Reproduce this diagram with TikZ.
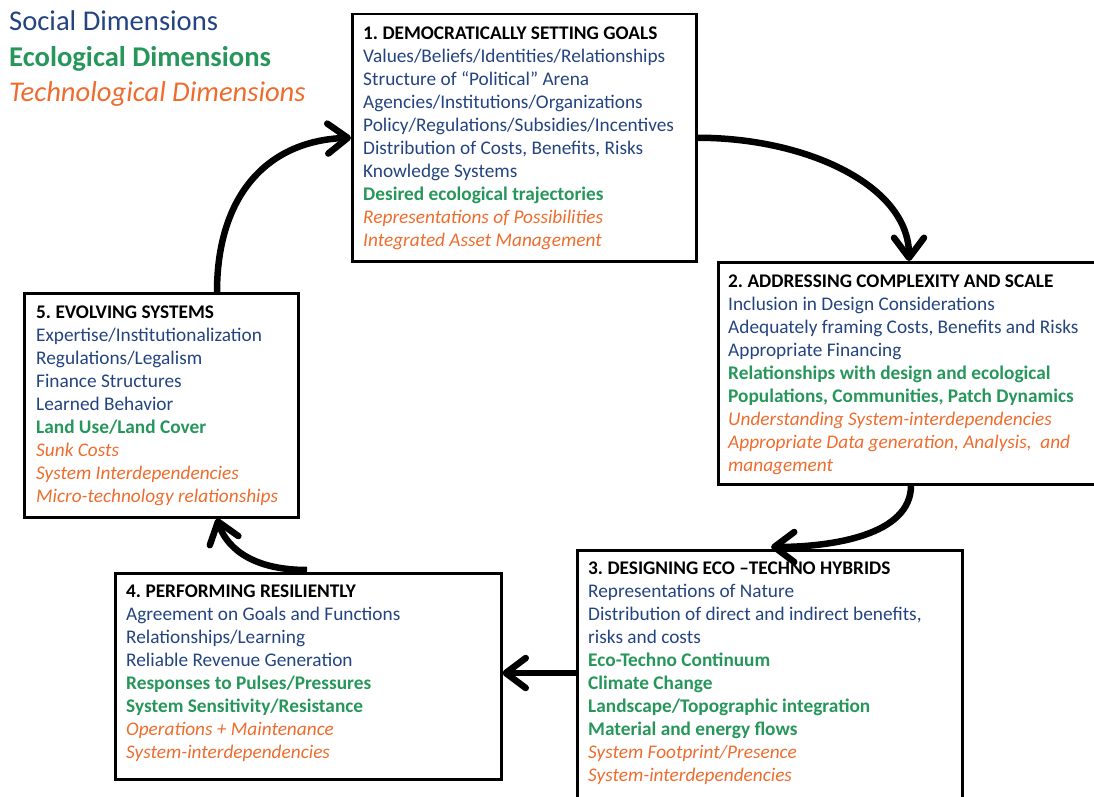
\documentclass[tikz,border=0pt]{standalone}
\usepackage{fontspec}
\setmainfont{Carlito}
\usetikzlibrary{arrows.meta,calc}
\frenchspacing
\definecolor{soc}{RGB}{35,68,128}
\definecolor{eco}{RGB}{38,150,90}
\definecolor{tec}{RGB}{238,108,45}
\newcommand\TitleL[1]{{\bfseries\color{black}#1}}
\newcommand\SocL[1]{{\color{soc}#1}}
\newcommand\EcoL[1]{{\bfseries\color{eco}#1}}
\newcommand\TecL[1]{{\itshape\color{tec}#1}}
\begin{document}
\begin{tikzpicture}[x=1pt,y=-1pt,
  box/.style={draw, line width=2.5pt, inner sep=0pt, anchor=north west},
  txt/.style={align=left, inner sep=0pt, anchor=north west, font=\fontsize{19.3}{23}\selectfont},
  leg/.style={inner sep=0pt, anchor=base west, font=\fontsize{28.6}{32}\selectfont},
  arr/.style={line width=6.5pt, -{Straight Barb[length=20pt,width=30pt,round]}}]
\useasboundingbox (0,0) rectangle (1094,797);
% legend
\node[leg, text=soc] (l1) at (9,31) {Social Dimensions};
\node[leg, text=eco, font=\fontsize{28.6}{32}\selectfont\bfseries] (l2) at (9,67) {Ecological Dimensions};
\node[leg, text=tec, font=\fontsize{28.6}{32}\selectfont\itshape] (l3) at (9,102) {Technological Dimensions};
% boxes
\node[box, minimum width=344pt, minimum height=247pt] (b1) at (351,13) {};
\node[box, minimum width=383pt, minimum height=222pt] (b2) at (717,261) {};
\node[box, minimum width=385pt, minimum height=251pt] (b3) at (576,549) {};
\node[box, minimum width=386pt, minimum height=206pt] (b4) at (114,572) {};
\node[box, minimum width=274pt, minimum height=224pt] (b5) at (23,292) {};
% texts
\node[txt] (t1) at (363,27) {\TitleL{1. DEMOCRATICALLY SETTING GOALS}\\
\SocL{Values/Beliefs/Identities/Relationships}\\
\SocL{Structure of “Political” Arena}\\
\SocL{Agencies/Institutions/Organizations}\\
\SocL{Policy/Regulations/Subsidies/Incentives}\\
\SocL{Distribution of Costs, Benefits, Risks}\\
\SocL{Knowledge Systems}\\
\EcoL{Desired ecological trajectories}\\
\TecL{Representations of Possibilities}\\
\TecL{Integrated Asset Management}};
\node[txt] (t2) at (728,275) {\TitleL{2. ADDRESSING COMPLEXITY AND SCALE}\\
\SocL{Inclusion in Design Considerations}\\
\SocL{Adequately framing Costs, Benefits and Risks}\\
\SocL{Appropriate Financing}\\
\EcoL{Relationships with design and ecological}\\
\EcoL{Populations, Communities, Patch Dynamics}\\
\TecL{Understanding System-interdependencies}\\
\TecL{Appropriate Data generation, Analysis,\ \ and}\\
\TecL{management}};
\node[txt] (t3) at (588,562) {\TitleL{3. DESIGNING ECO –TECHNO HYBRIDS}\\
\SocL{Representations of Nature}\\
\SocL{Distribution of direct and indirect benefits,}\\
\SocL{risks and costs}\\
\EcoL{Eco-Techno Continuum}\\
\EcoL{Climate Change}\\
\EcoL{Landscape/Topographic integration}\\
\EcoL{Material and energy flows}\\
\TecL{System Footprint/Presence}\\
\TecL{System-interdependencies}};
\node[txt] (t4) at (126,585) {\TitleL{4. PERFORMING RESILIENTLY}\\
\SocL{Agreement on Goals and Functions}\\
\SocL{Relationships/Learning}\\
\SocL{Reliable Revenue Generation}\\
\EcoL{Responses to Pulses/Pressures}\\
\EcoL{System Sensitivity/Resistance}\\
\TecL{Operations + Maintenance}\\
\TecL{System-interdependencies}};
\node[txt] (t5) at (36,306) {\TitleL{5. EVOLVING SYSTEMS}\\
\SocL{Expertise/Institutionalization}\\
\SocL{Regulations/Legalism}\\
\SocL{Finance Structures}\\
\SocL{Learned Behavior}\\
\EcoL{Land Use/Land Cover}\\
\TecL{Sunk Costs}\\
\TecL{System Interdependencies}\\
\TecL{Micro-technology relationships}};
% connectors
\draw[arr] ($(b5.north west)+(194,0)$) .. controls +(0,-95) and +(-85,3) .. (b1.west);
\draw[arr] (b1.east) .. controls +(110,0) and +(0,-75) .. ($(b2.north west)+(192,0)$);
\draw[arr] ($(b2.south west)+(194,0)$) .. controls +(0,50) and +(60,0) .. ($(b3.north west)+(195,-2)$);
\draw[arr] (b3.west |- 0,673) -- (b4.east |- 0,673);
\draw[arr] ($(b4.north west)+(193,-2)$) .. controls +(-60,0) and +(8,25) .. ($(b5.south west)+(194,0)$);
\end{tikzpicture}
\end{document}
